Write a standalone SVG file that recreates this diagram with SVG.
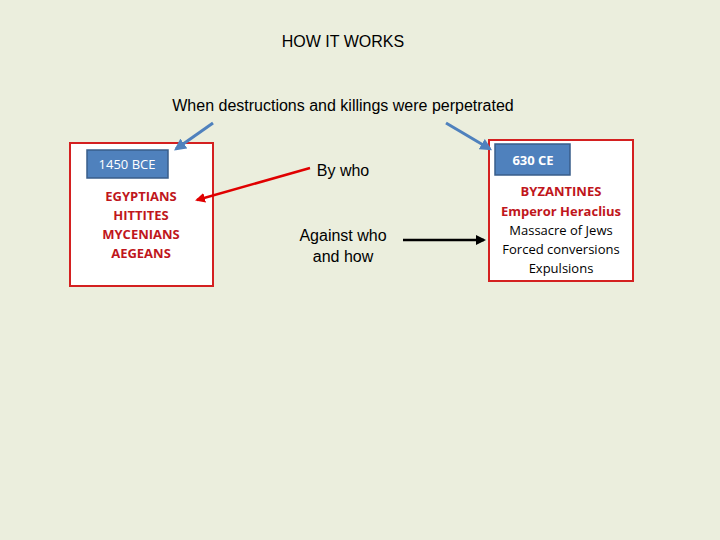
<svg xmlns="http://www.w3.org/2000/svg" width="720" height="540" viewBox="0 0 720 540">
<style>
.t{font-family:"Liberation Sans",Arial,sans-serif;font-size:16px;fill:#000}
.c{font-family:"Open Sans","Noto Sans",sans-serif;font-size:13px;text-anchor:middle}
.r{fill:#c0161c;font-weight:bold}
.box{fill:#fff;stroke:#d42020;stroke-width:2}
.lab{fill:#4f81bd;stroke:#385d8a;stroke-width:1.5}
</style>
<defs>
<marker id="mb" viewBox="0 0 10 10" refX="8" refY="5" markerWidth="4" markerHeight="4" orient="auto"><path d="M0,0L10,5L0,10z" fill="#4f81bd"/></marker>
<marker id="mr" viewBox="0 0 10 10" refX="8" refY="5" markerWidth="4" markerHeight="4" orient="auto"><path d="M0,0L10,5L0,10z" fill="#e00000"/></marker>
<marker id="mk" viewBox="0 0 10 10" refX="8" refY="5" markerWidth="4" markerHeight="4" orient="auto"><path d="M0,0L10,5L0,10z" fill="#000"/></marker>
</defs>
<rect width="720" height="540" fill="#ebeedd"/>
<text class="t" x="343" y="47" text-anchor="middle">HOW IT WORKS</text>
<text class="t" x="343" y="111" text-anchor="middle">When destructions and killings were perpetrated</text>
<g id="left">
<rect class="box" x="70" y="143" width="143" height="143"/>
<rect class="lab" x="87" y="150" width="81" height="28"/>
<text class="c" x="127" y="169" fill="#fff">1450 BCE</text>
<text class="c r" x="141" y="201">EGYPTIANS</text>
<text class="c r" x="141" y="220">HITTITES</text>
<text class="c r" x="141" y="239">MYCENIANS</text>
<text class="c r" x="141" y="258">AEGEANS</text>
</g>
<g id="bywho"><text class="t" x="343" y="176" text-anchor="middle">By who</text></g>
<g id="against"><text class="t" x="343" y="241" text-anchor="middle">Against who</text><text class="t" x="343" y="262" text-anchor="middle">and how</text></g>
<g id="right">
<rect class="box" x="489" y="140" width="144" height="141"/>
<rect class="lab" x="495" y="144" width="75" height="31"/>
<text class="c" x="533" y="165" fill="#fff" font-weight="bold">630 CE</text>
<text class="c r" x="561" y="196">BYZANTINES</text>
<text class="c r" x="561" y="216">Emperor Heraclius</text>
<text class="c" x="561" y="235">Massacre of Jews</text>
<text class="c" x="561" y="254">Forced conversions</text>
<text class="c" x="561" y="273">Expulsions</text>
</g>
<g id="connectors" fill="none">
<line x1="213" y1="123" x2="176" y2="149" stroke="#4f81bd" stroke-width="3" marker-end="url(#mb)"/>
<line x1="446" y1="123" x2="490" y2="149" stroke="#4f81bd" stroke-width="3" marker-end="url(#mb)"/>
<line x1="310" y1="168" x2="197" y2="200" stroke="#e00000" stroke-width="2.5" marker-end="url(#mr)"/>
<line x1="403" y1="240" x2="484" y2="240" stroke="#000" stroke-width="2.5" marker-end="url(#mk)"/>
</g>
</svg>
